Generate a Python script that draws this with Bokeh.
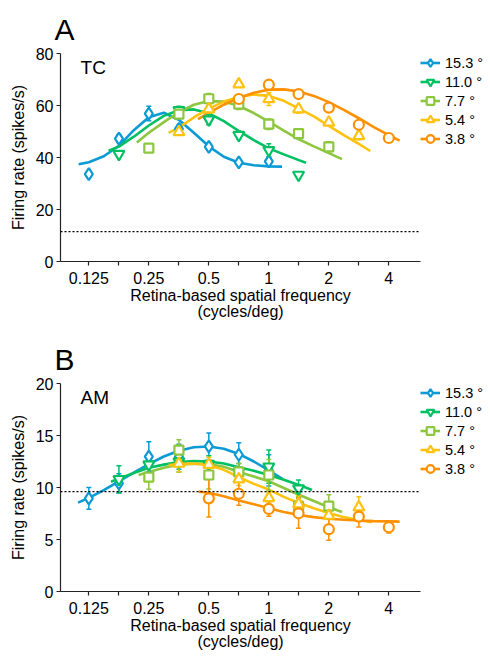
from bokeh.plotting import figure
from bokeh.models import Range1d, FixedTicker, Span, Legend, LegendItem, Label
from bokeh.layouts import column
from bokeh.embed import file_html
from bokeh.resources import INLINE

FONT = "Liberation Sans"

# ---------------- axes / labels ----------------
sf_ticks = [0.125, 0.177, 0.25, 0.354, 0.5, 0.707, 1, 1.41, 2, 2.83, 4]
sf_tick_labels = ["0.125", "", "0.25", "", "0.5", "", "1", "", "2", "", "4"]
tc_y_ticks = [0, 20, 40, 60, 80]
am_y_ticks = [0, 5, 10, 15, 20]

ecc_labels = ["15.3 °", "11.0 °", "7.7 °", "5.4 °", "3.8 °"]
ecc_colors = ["#0a9ad4", "#00c062", "#8dc63f", "#ffc20e", "#ff9000"]
ecc_markers = ["diamond", "inverted_triangle", "square", "triangle", "circle"]
ecc_sizes = [12, 11, 9, 11, 10]

tc_spont = 11.5
am_spont = 9.6

# ---------------- panel A : TC ----------------
tc_sf_153 = [0.125, 0.177, 0.25, 0.354, 0.5, 0.707, 1]
tc_rate_153 = [33.6, 47.3, 56.9, 51.0, 44.1, 38.1, 38.5]
tc_err_153 = [1.3, 1.5, 2.8, 1.5, 1.3, 1.0, 1.5]

tc_sf_110 = [0.177, 0.354, 0.5, 0.707, 1, 1.41]
tc_rate_110 = [41.3, 58.2, 54.6, 48.6, 42.8, 33.3]
tc_err_110 = [1.2, 1.5, 2.0, 1.5, 2.5, 1.0]

tc_sf_77 = [0.25, 0.354, 0.5, 0.707, 1, 1.41, 2]
tc_rate_77 = [43.6, 56.7, 62.6, 60.5, 52.8, 49.2, 44.1]
tc_err_77 = [1.0, 1.5, 2.0, 2.0, 2.0, 1.2, 2.0]

tc_sf_54 = [0.354, 0.5, 0.707, 1, 1.41, 2, 2.83]
tc_rate_54 = [49.8, 58.6, 68.2, 62.5, 58.6, 53.5, 48.3]
tc_err_54 = [1.0, 1.5, 1.0, 2.5, 1.5, 1.0, 1.5]

tc_sf_38 = [0.707, 1, 1.41, 2, 2.83, 4]
tc_rate_38 = [62.5, 68.0, 64.4, 59.2, 52.6, 47.5]
tc_err_38 = [1.0, 1.0, 1.0, 1.2, 1.0, 1.0]

# fitted curves (position in octaves re 1 cycle/deg, rate)
tc_fit_oct_153 = [-3.17, -3, -2.75, -2.5, -2.25, -2, -1.75, -1.5, -1.25, -1, -0.75, -0.5, -0.25, 0, 0.22]
tc_fit_153 = [37.4, 38.2, 40.5, 44.5, 50.5, 55.5, 57.2, 54.5, 49.5, 44.3, 40.3, 38.0, 37.0, 36.6, 36.5]

tc_fit_oct_110 = [-2.67, -2.5, -2.25, -2, -1.75, -1.5, -1.25, -1, -0.75, -0.5, -0.25, 0, 0.25, 0.5, 0.62]
tc_fit_110 = [42.6, 44.2, 48.0, 52.3, 56.0, 58.2, 58.5, 57.0, 54.0, 50.2, 46.7, 43.5, 41.2, 39.0, 38.0]

tc_fit_oct_77 = [-2.2, -2, -1.75, -1.5, -1.25, -1, -0.75, -0.5, -0.25, 0, 0.25, 0.5, 0.75, 1, 1.22]
tc_fit_77 = [45.8, 49.5, 53.6, 57.4, 60.3, 61.7, 61.5, 59.8, 57.1, 53.8, 50.3, 47.0, 44.3, 41.7, 39.4]

tc_fit_oct_54 = [-1.67, -1.5, -1.25, -1, -0.75, -0.5, -0.25, 0, 0.25, 0.5, 0.75, 1, 1.25, 1.5, 1.69]
tc_fit_54 = [49.5, 51.5, 55.4, 58.8, 61.5, 63.3, 64.2, 63.7, 61.8, 58.8, 55.8, 52.2, 48.6, 45.2, 42.5]

tc_fit_oct_38 = [-1.18, -1, -0.75, -0.5, -0.25, 0, 0.25, 0.5, 0.75, 1, 1.25, 1.5, 1.75, 2, 2.18]
tc_fit_38 = [54.8, 57.2, 60.3, 62.9, 64.9, 66.1, 66.2, 65.4, 63.7, 61.3, 58.3, 55.1, 51.7, 48.6, 46.5]

# ---------------- panel B : AM ----------------
am_sf_153 = [0.125, 0.177, 0.25, 0.354, 0.5, 0.707, 1]
am_rate_153 = [8.96, 10.4, 12.96, 12.96, 13.95, 13.15, 11.65]
am_err_153 = [1.05, 0.93, 1.44, 1.2, 1.28, 1.15, 1.5]

am_sf_110 = [0.177, 0.25, 0.354, 0.5, 0.707, 1, 1.41]
am_rate_110 = [10.8, 12.2, 12.5, 12.25, 11.5, 12.0, 9.9]
am_err_110 = [1.3, 0.8, 1.0, 0.8, 0.8, 1.6, 0.83]

am_sf_77 = [0.25, 0.354, 0.5, 0.707, 1, 1.41, 2]
am_rate_77 = [11.0, 13.6, 11.2, 11.5, 11.2, 8.2, 8.2]
am_err_77 = [1.17, 1.0, 1.35, 0.8, 1.5, 0.9, 1.1]

am_sf_54 = [0.354, 0.5, 0.707, 1, 1.41, 2, 2.83]
am_rate_54 = [12.3, 12.2, 10.8, 9.0, 8.4, 7.3, 8.1]
am_err_54 = [0.8, 0.7, 0.6, 0.6, 0.8, 0.9, 1.0]

am_sf_38 = [0.5, 0.707, 1, 1.41, 2, 2.83, 4]
am_rate_38 = [8.96, 9.4, 7.94, 7.52, 5.99, 7.2, 6.18]
am_err_38 = [1.8, 1.1, 0.7, 1.44, 1.06, 1.0, 0.55]

am_fit_oct_153 = [-3.18, -3, -2.75, -2.5, -2.25, -2, -1.75, -1.5, -1.25, -1, -0.75, -0.5, -0.25, 0, 0.23]
am_fit_153 = [8.54, 9.0, 9.75, 10.58, 11.43, 12.25, 12.98, 13.53, 13.87, 13.94, 13.73, 13.23, 12.5, 11.64, 10.8]

am_fit_oct_110 = [-2.63, -2.5, -2.25, -2, -1.75, -1.5, -1.25, -1, -0.75, -0.5, -0.25, 0, 0.25, 0.5, 0.72]
am_fit_110 = [10.56, 10.85, 11.4, 11.9, 12.2, 12.45, 12.55, 12.5, 12.3, 11.95, 11.6, 11.2, 10.75, 10.25, 9.76]

am_fit_oct_77 = [-2.17, -2, -1.75, -1.5, -1.25, -1, -0.75, -0.5, -0.25, 0, 0.25, 0.5, 0.75, 1, 1.22]
am_fit_77 = [11.2, 11.5, 11.9, 12.2, 12.3, 12.25, 12.0, 11.5, 11.05, 10.6, 9.95, 9.3, 8.7, 8.1, 7.65]

am_fit_oct_54 = [-1.67, -1.5, -1.25, -1, -0.75, -0.5, -0.25, 0, 0.25, 0.5, 0.75, 1, 1.25, 1.5, 1.72]
am_fit_54 = [12.15, 12.25, 12.3, 12.15, 11.7, 11.0, 10.35, 9.8, 9.1, 8.5, 8.0, 7.55, 7.15, 6.85, 6.65]

am_fit_oct_38 = [-1.17, -1, -0.75, -0.5, -0.25, 0, 0.25, 0.5, 0.75, 1, 1.25, 1.5, 1.75, 2, 2.18]
am_fit_38 = [9.6, 9.5, 9.15, 8.75, 8.4, 8.0, 7.65, 7.35, 7.15, 7.0, 6.9, 6.82, 6.77, 6.74, 6.72]

tc_points = [(tc_sf_153, tc_rate_153, tc_err_153), (tc_sf_110, tc_rate_110, tc_err_110),
             (tc_sf_77, tc_rate_77, tc_err_77), (tc_sf_54, tc_rate_54, tc_err_54),
             (tc_sf_38, tc_rate_38, tc_err_38)]
tc_fits = [(tc_fit_oct_153, tc_fit_153), (tc_fit_oct_110, tc_fit_110), (tc_fit_oct_77, tc_fit_77),
           (tc_fit_oct_54, tc_fit_54), (tc_fit_oct_38, tc_fit_38)]
am_points = [(am_sf_153, am_rate_153, am_err_153), (am_sf_110, am_rate_110, am_err_110),
             (am_sf_77, am_rate_77, am_err_77), (am_sf_54, am_rate_54, am_err_54),
             (am_sf_38, am_rate_38, am_err_38)]
am_fits = [(am_fit_oct_153, am_fit_153), (am_fit_oct_110, am_fit_110), (am_fit_oct_77, am_fit_77),
           (am_fit_oct_54, am_fit_54), (am_fit_oct_38, am_fit_38)]


def make_panel(letter, name, ymax, yticks, spont, points, fits, top_b, bottom_b):
    x_lo, x_hi = 2 ** -3.472, 2 ** 2.528
    p = figure(frame_width=360, frame_height=208, x_axis_type="log",
               x_range=Range1d(x_lo, x_hi), y_range=Range1d(0, ymax),
               output_backend="svg", toolbar_location=None,
               min_border_left=60, min_border_right=0,
               min_border_top=top_b, min_border_bottom=bottom_b)
    p.outline_line_color = None
    p.grid.visible = False
    p.background_fill_color = "white"
    p.border_fill_color = "white"

    p.title.text = letter
    p.title.text_font = FONT
    p.title.text_font_size = "30px"
    p.title.text_font_style = "normal"
    p.title.text_color = "black"
    p.title.align = "left"
    p.title.offset = -6
    p.title.standoff = 15

    ax = p.xaxis[0]
    ax.ticker = FixedTicker(ticks=sf_ticks)
    ax.major_label_overrides = {t: l for t, l in zip(sf_ticks, sf_tick_labels)}
    ax.axis_label = "Retina-based spatial frequency\n(cycles/deg)"
    ax.axis_label_standoff = 0
    ax.axis_label_text_line_height = 0.95
    ax.major_label_standoff = 6

    ay = p.yaxis[0]
    ay.ticker = FixedTicker(ticks=yticks)
    ay.axis_label = "Firing rate (spikes/s)"
    ay.axis_label_standoff = 6
    ay.major_label_standoff = 3

    for a in (ax, ay):
        a.axis_label_text_font = FONT
        a.axis_label_text_font_size = "16px"
        a.axis_label_text_font_style = "normal"
        a.axis_label_text_color = "black"
        a.major_label_text_font = FONT
        a.major_label_text_font_size = "16px"
        a.major_label_text_color = "black"
        a.major_tick_out = 4
        a.major_tick_in = 0
        a.minor_tick_out = 0
        a.minor_tick_in = 0
        a.axis_line_width = 1.2
        a.axis_line_color = "#222222"
        a.major_tick_line_color = "#222222"
        a.major_tick_line_width = 1.2

    p.add_layout(Span(location=spont, dimension="width", line_color="black",
                      line_width=1.2, line_dash="2 2"))

    line_rs = []
    for (oct_, fy), c in zip(fits, ecc_colors):
        fx = [2 ** o for o in oct_]
        line_rs.append(p.line(fx, fy, line_color=c, line_width=2.6))

    for (sx, sy, se), c in zip(points, ecc_colors):
        lo = [v - e for v, e in zip(sy, se)]
        hi = [v + e for v, e in zip(sy, se)]
        p.segment(sx, lo, sx, hi, line_color=c, line_width=1.5)
        p.scatter(sx, lo, marker="dash", size=5, line_color=c, line_width=1.5)
        p.scatter(sx, hi, marker="dash", size=5, line_color=c, line_width=1.5)

    mark_rs = []
    for (sx, sy, se), c, m, s in zip(points, ecc_colors, ecc_markers, ecc_sizes):
        mark_rs.append(p.scatter(sx, sy, marker=m, size=s, line_color=c,
                                 fill_color="white", line_width=2.2))

    items = [LegendItem(label=lab, renderers=[lr, mr])
             for lab, lr, mr in zip(ecc_labels, line_rs, mark_rs)]
    legend = Legend(items=items, location="top_left", orientation="vertical",
                    padding=0, margin=0, spacing=0, glyph_width=20, glyph_height=19,
                    label_height=19, label_standoff=5, label_text_font=FONT,
                    label_text_font_size="14.5px", label_text_color="black",
                    border_line_color=None, background_fill_alpha=0)
    p.add_layout(legend, "right")

    yr = ymax / 208.0
    p.add_layout(Label(x=2 ** -3.138, y=ymax - 14.0 * yr, text=name, text_font=FONT,
                       text_font_size="19px", text_baseline="alphabetic", text_color="black"))
    return p


pA = make_panel("A", "TC", 80, tc_y_ticks, tc_spont, tc_points, tc_fits, 53, 69)
pB = make_panel("B", "AM", 20, am_y_ticks, am_spont, am_points, am_fits, 53, 62)

layout = column(pA, pB, spacing=0)
open("out.html", "w").write(file_html(layout, INLINE))
